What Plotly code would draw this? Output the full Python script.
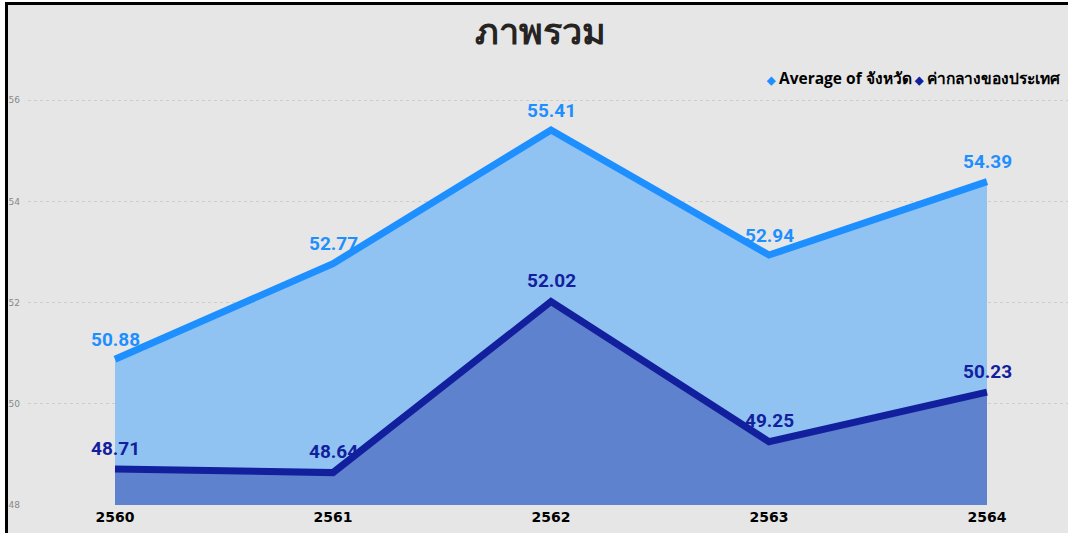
import plotly.graph_objects as go

years = ["2560", "2561", "2562", "2563", "2564"]
avg_province = [50.88, 52.77, 55.41, 52.94, 54.39]
national_median = [48.71, 48.64, 52.02, 49.25, 50.23]
name_avg = "Average of จังหวัด"
name_nat = "ค่ากลางของประเทศ"
title_text = "ภาพรวม"
y_ticks = [48, 50, 52, 54, 56]

C_AVG_LINE = "#1E8FFF"
C_AVG_FILL = "#91C3F2"
C_NAT_LINE = "#13209E"
C_NAT_FILL = "#5F82CF"
C_BG = "#E6E6E6"

xi = list(range(len(years)))

W, H = 1068, 533
ML, MR, MT, MB = 28, 0, 90, 28
pw = W - ML - MR
ph = H - MT - MB


def px_x(p):
    return (p - ML) / pw


def px_y(p):
    return (H - MB - p) / ph


fig = go.Figure()

fig.add_trace(go.Scatter(
    x=xi, y=avg_province, mode="lines", fill="tozeroy", name=name_avg,
    fillcolor=C_AVG_FILL, line=dict(color=C_AVG_LINE, width=7),
    showlegend=False, hoverinfo="skip"))
fig.add_trace(go.Scatter(
    x=xi, y=national_median, mode="lines", fill="tozeroy", name=name_nat,
    fillcolor=C_NAT_FILL, line=dict(color=C_NAT_LINE, width=7),
    showlegend=False, hoverinfo="skip"))

label_font = "Roboto, 'DejaVu Sans', sans-serif"
for xv, yv in zip(xi, avg_province):
    fig.add_annotation(x=xv, y=yv, text=f"{yv:.2f}", showarrow=False, yshift=20,
                       font=dict(family=label_font, size=19, color=C_AVG_LINE, weight="bold"))
for xv, yv in zip(xi, national_median):
    fig.add_annotation(x=xv, y=yv, text=f"{yv:.2f}", showarrow=False, yshift=21,
                       font=dict(family=label_font, size=19, color=C_NAT_LINE, weight="bold"))

# legend (drawn as text so the entries sit tight like the original)
legend_font = dict(family="'Open Sans', 'Noto Sans', sans-serif", size=15.5,
                   color="black", weight="bold")
for name, color, left in [(name_avg, C_AVG_LINE, 764), (name_nat, C_NAT_LINE, 912)]:
    fig.add_annotation(
        xref="paper", yref="paper", x=px_x(left), y=px_y(78),
        xanchor="left", yanchor="middle", showarrow=False,
        text=f"<span style='color:{color};font-size:11px'>◆</span> {name}",
        font=legend_font)

# outer white strips and the black frame edges (left and top)
fig.add_shape(type="rect", xref="paper", yref="paper", layer="below",
              x0=px_x(-20), x1=px_x(5), y0=px_y(-20), y1=px_y(600),
              fillcolor="white", line=dict(width=0))
fig.add_shape(type="rect", xref="paper", yref="paper", layer="below",
              x0=px_x(-20), x1=px_x(1200), y0=px_y(-20), y1=px_y(2),
              fillcolor="white", line=dict(width=0))
fig.add_shape(type="line", xref="paper", yref="paper", layer="below",
              x0=px_x(6.5), x1=px_x(6.5), y0=px_y(2), y1=px_y(600),
              line=dict(color="black", width=3))
fig.add_shape(type="line", xref="paper", yref="paper", layer="below",
              x0=px_x(5), x1=px_x(1200), y0=px_y(3.5), y1=px_y(3.5),
              line=dict(color="black", width=3))

fig.update_layout(
    width=W, height=H,
    margin=dict(l=ML, r=MR, t=MT, b=MB, pad=0),
    paper_bgcolor=C_BG, plot_bgcolor="rgba(0,0,0,0)",
    title=dict(text=title_text, x=540 / W, xref="container", xanchor="center",
               y=1 - 31 / H, yanchor="middle",
               font=dict(family="'Noto Sans', 'DejaVu Sans', sans-serif", size=36,
                         color="#252423", weight="bold")),
    showlegend=False,
    xaxis=dict(tickmode="array", tickvals=xi, ticktext=years,
               range=[(ML - 115) / 218, (W - 115) / 218],
               showgrid=False, zeroline=False, showline=False,
               tickfont=dict(family="'DejaVu Sans', sans-serif", size=14, color="black", weight="bold"),
               ticklabelstandoff=2),
    yaxis=dict(range=[48, 48 + ph / 50.6], tickvals=y_ticks,
               showgrid=True, gridcolor="#CDCDCD", griddash="dot", gridwidth=1,
               zeroline=False, showline=False,
               tickfont=dict(family="'Segoe UI', 'DejaVu Sans', sans-serif", size=9, color="#888888"),
               ticklabelstandoff=7),
)

fig.write_html("out.html", config={"displayModeBar": False},
               post_script="document.body.style.margin='0';document.body.style.overflow='hidden';")
